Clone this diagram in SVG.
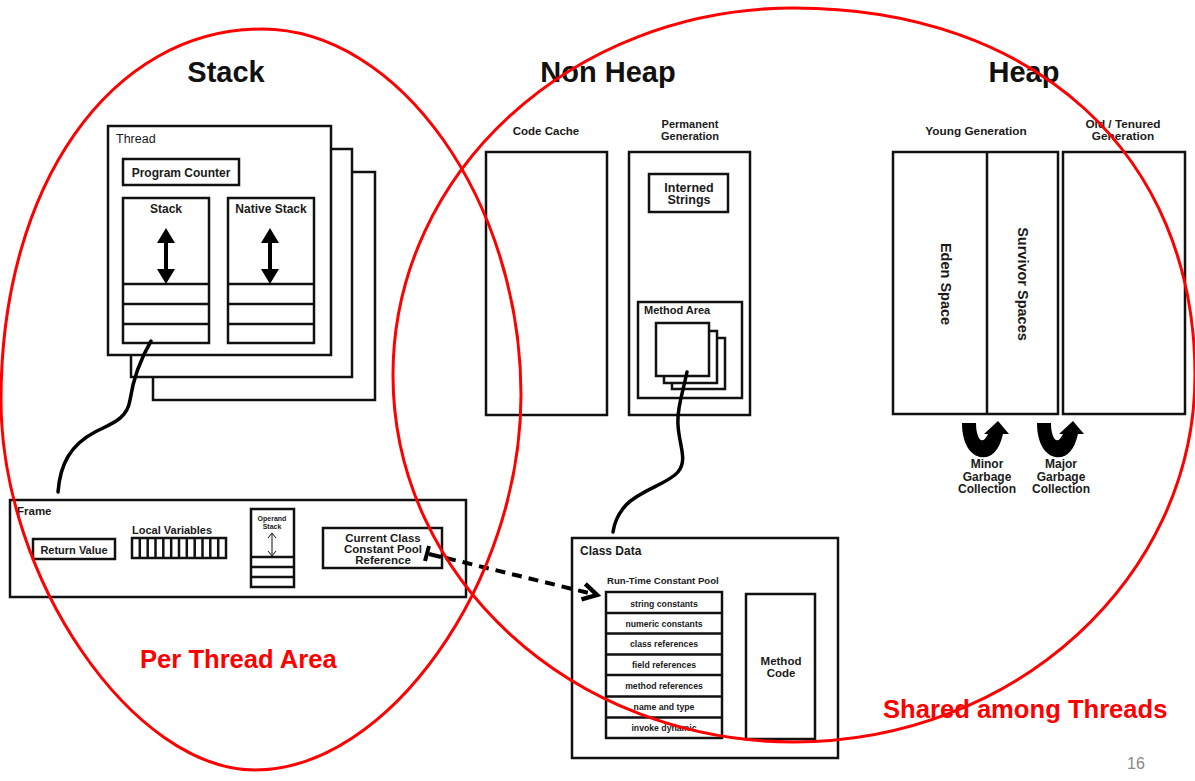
<svg xmlns="http://www.w3.org/2000/svg" width="1195" height="781" viewBox="0 0 1195 781">
<defs>
<style>
.bx{fill:#fff;stroke:#111;stroke-width:2.5}
.ln{fill:none;stroke:#111;stroke-width:2.5}
.t{font-family:"Liberation Sans",Arial,sans-serif;fill:#1a1a1a}
.b{font-weight:bold}
.m{text-anchor:middle}
.title{font-family:"Liberation Sans",Arial,sans-serif;font-weight:bold;font-size:29px;fill:#111;text-anchor:middle}
.red{font-family:"Liberation Sans",Arial,sans-serif;font-weight:bold;font-size:25.6px;fill:#f00}
.ell{fill:none;stroke:#f00;stroke-width:3}
.wire{fill:none;stroke:#000;stroke-width:3.5;stroke-linecap:round}
</style>
<marker id="chev" viewBox="0 0 10 10" refX="8" refY="5" markerWidth="5" markerHeight="5" orient="auto" markerUnits="strokeWidth">
<path d="M1,1 L8,5 L1,9" fill="none" stroke="#000" stroke-width="2.2"/>
</marker>
</defs>
<rect width="1195" height="781" fill="#fff"/>

<text class="title" x="226" y="82">Stack</text>
<text class="title" x="608" y="82">Non Heap</text>
<text class="title" x="1024" y="82">Heap</text>

<g id="thread">
<rect class="bx" x="153" y="172" width="222" height="228"/>
<rect class="bx" x="131" y="149" width="221" height="228"/>
<rect class="bx" x="108" y="126" width="223" height="229"/>
<text class="t" x="116" y="143" font-size="12.5">Thread</text>
</g>
<g id="program-counter">
<rect class="bx" x="123" y="159" width="116" height="26"/>
<text class="t b m" x="181" y="177" font-size="12">Program Counter</text>
</g>
<g id="stack">
<rect class="bx" x="123" y="198" width="86" height="145"/>
<line class="ln" x1="123" y1="284" x2="209" y2="284"/>
<line class="ln" x1="123" y1="304" x2="209" y2="304"/>
<line class="ln" x1="123" y1="324" x2="209" y2="324"/>
<text class="t b m" x="166" y="213" font-size="12">Stack</text>
<line x1="166" y1="240" x2="166" y2="272" stroke="#000" stroke-width="4"/>
<path d="M166,228 L157,243 L175,243 Z M166,284 L157,269 L175,269 Z" fill="#000"/>
</g>
<g id="native-stack">
<rect class="bx" x="228" y="198" width="86" height="145"/>
<line class="ln" x1="228" y1="284" x2="314" y2="284"/>
<line class="ln" x1="228" y1="304" x2="314" y2="304"/>
<line class="ln" x1="228" y1="324" x2="314" y2="324"/>
<text class="t b m" x="271" y="213" font-size="12">Native Stack</text>
<line x1="270" y1="240" x2="270" y2="272" stroke="#000" stroke-width="4"/>
<path d="M270,228 L261,243 L279,243 Z M270,284 L261,269 L279,269 Z" fill="#000"/>
</g>

<g id="frame">
<rect class="bx" x="10" y="500" width="456" height="97"/>
<text class="t b" x="17" y="515" font-size="11.5">Frame</text>
<rect class="bx" x="33" y="539" width="82" height="20"/>
<text class="t b m" x="74" y="554" font-size="11">Return Value</text>
<text class="t b" x="132" y="534" font-size="11">Local Variables</text>
<rect class="bx" x="132" y="538" width="94" height="20"/>
<path class="ln" stroke-width="2" d="M139.8,538v20M147.7,538v20M155.5,538v20M163.3,538v20M171.2,538v20M179,538v20M186.8,538v20M194.7,538v20M202.5,538v20M210.3,538v20M218.2,538v20"/>
<rect class="bx" x="251" y="509" width="43" height="78"/>
<text class="t b m" x="272" y="521" font-size="7">Operand</text>
<text class="t b m" x="272" y="529" font-size="7">Stack</text>
<line x1="272" y1="534" x2="272" y2="555" stroke="#111" stroke-width="1"/>
<path d="M268,538 L272,533 L276,538 M268,551 L272,556 L276,551" fill="none" stroke="#111" stroke-width="1"/>
<line class="ln" x1="251" y1="557" x2="294" y2="557"/>
<line class="ln" x1="251" y1="567" x2="294" y2="567"/>
<line class="ln" x1="251" y1="577" x2="294" y2="577"/>
<rect class="bx" x="323" y="528" width="119" height="40"/>
<text class="t b m" x="383" y="542" font-size="11.5">Current Class</text>
<text class="t b m" x="383" y="553" font-size="11.5">Constant Pool</text>
<text class="t b m" x="383" y="564" font-size="11.5">Reference</text>
</g>

<g id="code-cache">
<text class="t b m" x="546" y="135" font-size="11.5">Code Cache</text>
<rect class="bx" x="486" y="152" width="121" height="263"/>
</g>
<g id="permanent-generation">
<text class="t b m" x="690" y="128" font-size="11">Permanent</text>
<text class="t b m" x="690" y="140" font-size="11">Generation</text>
<rect class="bx" x="629" y="152" width="121" height="263"/>
</g>
<g id="interned-strings">
<rect class="bx" x="649" y="174" width="79" height="38"/>
<text class="t b m" x="689" y="192" font-size="12.5">Interned</text>
<text class="t b m" x="689" y="204" font-size="12.5">Strings</text>
</g>
<g id="method-area">
<rect class="bx" x="638" y="302" width="104" height="96"/>
<text class="t b" x="644" y="314" font-size="11">Method Area</text>
<rect class="bx" x="672" y="338" width="53" height="51"/>
<rect class="bx" x="664" y="331" width="53" height="52"/>
<rect class="bx" x="656" y="323" width="53" height="53"/>
</g>

<g id="young-generation">
<text class="t b m" x="976" y="135" font-size="11.8">Young Generation</text>
<rect class="bx" x="893" y="152" width="165" height="262"/>
<line class="ln" x1="987" y1="152" x2="987" y2="414"/>
<text class="t b m" transform="translate(941,284) rotate(90)" font-size="14.5" fill="#111">Eden Space</text>
<text class="t b m" transform="translate(1018,284) rotate(90)" font-size="14.5" fill="#111">Survivor Spaces</text>
</g>
<g id="old-generation">
<text class="t b m" x="1123" y="128" font-size="11.8">Old / Tenured</text>
<text class="t b m" x="1123" y="140" font-size="11.8">Generation</text>
<rect class="bx" x="1063" y="152" width="122" height="262"/>
</g>
<g id="minor-gc">
<path d="M962,423 H976 C976,438 982,447 988,434 H984 L998,421 L1009,434 H1003 C999,452 990,459 980,457 C968,454 962,440 962,423 Z" fill="#000"/>
<text class="t b m" x="987" y="468" font-size="12">Minor</text>
<text class="t b m" x="987" y="481" font-size="12">Garbage</text>
<text class="t b m" x="987" y="493" font-size="12">Collection</text>
</g>
<g id="major-gc">
<path d="M1037,423 H1051 C1051,438 1057,447 1063,434 H1059 L1073,421 L1084,434 H1078 C1074,452 1065,459 1055,457 C1043,454 1037,440 1037,423 Z" fill="#000"/>
<text class="t b m" x="1061" y="468" font-size="12">Major</text>
<text class="t b m" x="1061" y="481" font-size="12">Garbage</text>
<text class="t b m" x="1061" y="493" font-size="12">Collection</text>
</g>

<g id="class-data">
<rect class="bx" x="572" y="538" width="266" height="220"/>
<text class="t b" x="580" y="555" font-size="12">Class Data</text>
<text class="t b" x="607" y="584" font-size="9.6">Run-Time Constant Pool</text>
<rect class="bx" x="606" y="592" width="116" height="146"/>
<path class="ln" stroke-width="3" d="M606,613H722M606,633.5H722M606,654.5H722M606,675H722M606,696.5H722M606,717.5H722"/>
<g class="t b m" font-size="8.7">
<text x="664" y="607">string constants</text>
<text x="664" y="627">numeric constants</text>
<text x="664" y="647">class references</text>
<text x="664" y="668">field references</text>
<text x="664" y="689">method references</text>
<text x="664" y="710">name and type</text>
<text x="664" y="731">invoke dynamic</text>
</g>
<rect class="bx" x="746" y="594" width="69" height="145"/>
<text class="t b m" x="781" y="665" font-size="11.5">Method</text>
<text class="t b m" x="781" y="677" font-size="11.5">Code</text>
</g>

<g id="connectors">
<path class="wire" d="M151,341 C140,360 133,380 130,400 C127,420 110,424 95,432 C70,445 60,465 58,492"/>
<path class="wire" d="M687,372 C682,395 677,410 678,425 C679,445 688,460 678,472 C668,484 640,490 626,505 C617,515 614,525 613,532"/>
<line x1="425" y1="561" x2="429" y2="546" stroke="#000" stroke-width="4"/>
<path d="M429,554 L441,557" stroke="#000" stroke-width="4"/>
<path d="M446,558 L597,595" fill="none" stroke="#000" stroke-width="4" stroke-dasharray="10,7" marker-end="url(#chev)"/>
</g>

<g id="regions">
<path class="ell" d="M262,29 C399,29 521,201 521,395 C521,582 388,770 255,770 C133,770 1,578 1,400 C1,185 111,29 262,29 Z"/>
<path class="ell" d="M794,8 C1035,8 1195,155 1195,375 C1195,578 1015,742 794,742 C572.5,742 393,578 393,375 C393,172 572.5,8 794,8 Z"/>
<text class="red" x="140" y="668">Per Thread Area</text>
<text class="red" x="883" y="718">Shared among Threads</text>
<text x="1136" y="769" font-family="Liberation Sans, Arial, sans-serif" font-size="16" fill="#888" text-anchor="middle">16</text>
</g>
</svg>
